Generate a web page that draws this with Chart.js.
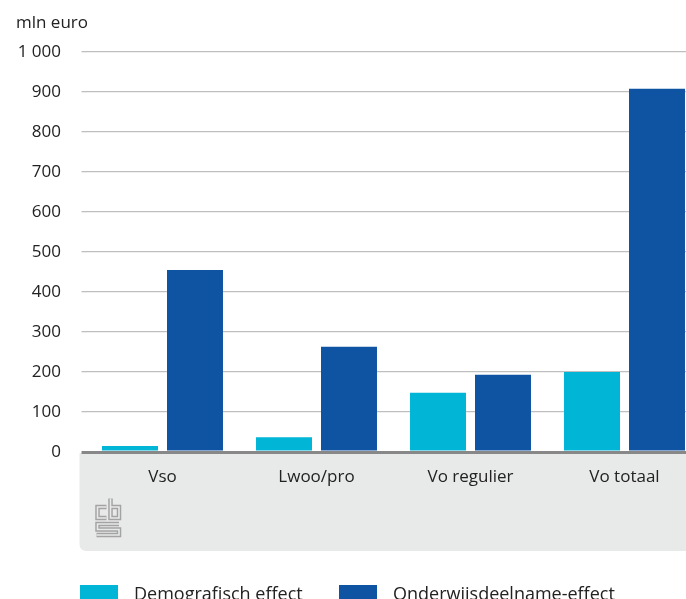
<!DOCTYPE html>
<html>
<head>
<meta charset="utf-8">
<script src="https://cdn.jsdelivr.net/npm/chart.js@4"></script>
<style>
  html, body { margin: 0; padding: 0; background: #fff; overflow: hidden; }
  #wrap { position: relative; width: 710px; height: 599px; }
  #unit { position: absolute; left: 16px; top: 10px; font: 17px "Open Sans", sans-serif; color: #222; }
  .lg { position: absolute; top: 582px; font: 18px "Open Sans", sans-serif; color: #222; line-height: 23px; white-space: nowrap; }
  .lgbox { position: absolute; top: 585px; width: 38px; height: 19px; }
</style>
</head>
<body>
<div id="wrap">
  <canvas id="c" width="710" height="599"></canvas>
  <div id="unit">mln euro</div>
  <div id="legend"></div>
</div>
<script>
const categories = ['Vso', 'Lwoo/pro', 'Vo regulier', 'Vo totaal'];
const seriesNames = ['Demografisch effect', 'Onderwijsdeelname-effect'];
const demografisch = [15, 37, 148, 200];
const onderwijsdeelname = [455, 263, 193, 908];
const yTickLabels = ['0', '100', '200', '300', '400', '500', '600', '700', '800', '900', '1 000'];
const colors = ['#00b5d6', '#0f53a3'];

const FONT = '"Open Sans", sans-serif';

const bgPlugin = {
  id: 'bgPanel',
  beforeDraw(chart) {
    const ctx = chart.ctx;
    const a = chart.chartArea;
    const x0 = 79.5, y0 = a.bottom + 1, x1 = chart.width + 10, y1 = 551, r = 7;
    ctx.save();
    ctx.fillStyle = '#e8e9e9';
    ctx.beginPath();
    ctx.moveTo(x0, y0);
    ctx.lineTo(x1, y0);
    ctx.lineTo(x1, y1);
    ctx.lineTo(x0 + r, y1);
    ctx.quadraticCurveTo(x0, y1, x0, y1 - r);
    ctx.closePath();
    ctx.fill();
    // CBS logo (outline style)
    const paths = [
      [[106.5, 507], [97.5, 507], [97.5, 518], [106.5, 518]],
      [[110.5, 498.5], [110.5, 518], [119, 518], [119, 507], [110.5, 507]],
      [[119, 524], [97.5, 524], [97.5, 529.5], [119, 529.5], [119, 535], [96.5, 535]]
    ];
    const strokeAll = (w, col) => {
      ctx.lineWidth = w; ctx.strokeStyle = col; ctx.lineJoin = 'miter'; ctx.lineCap = 'butt';
      paths.forEach(p => {
        ctx.beginPath();
        p.forEach((pt, i) => i ? ctx.lineTo(pt[0], pt[1]) : ctx.moveTo(pt[0], pt[1]));
        ctx.stroke();
      });
    };
    strokeAll(4.5, '#a3a3a3');
    strokeAll(1.6, '#e8e9e9');
    ctx.restore();
  }
};

new Chart(document.getElementById('c'), {
  type: 'bar',
  data: {
    labels: categories,
    datasets: [
      { label: seriesNames[0], data: demografisch, backgroundColor: colors[0] },
      { label: seriesNames[1], data: onderwijsdeelname, backgroundColor: colors[1] }
    ]
  },
  options: {
    responsive: false,
    animation: false,
    devicePixelRatio: 1,
    barPercentage: 0.8615,
    categoryPercentage: 0.844,
    layout: { padding: { left: 0, right: 8.5, top: 52, bottom: 0 } },
    plugins: { legend: { display: false }, tooltip: { enabled: false } },
    scales: {
      x: {
        z: 1,
        grid: { display: false, drawTicks: false },
        border: { display: true, color: '#888888', width: 3 },
        ticks: { color: '#222', font: { family: FONT, size: 17 }, padding: 15, maxRotation: 0 },
        afterFit(s) { s.height = 147; }
      },
      y: {
        min: 0, max: 1000,
        border: { display: false },
        grid: {
          drawTicks: true,
          tickLength: 4,
          color: c => c.tick && c.tick.value === 0 ? '#888888' : '#bfbfbf',
          lineWidth: c => c.tick && c.tick.value === 0 ? 3 : 1.3
        },
        ticks: {
          stepSize: 100,
          padding: 20.5,
          color: '#222',
          font: { family: FONT, size: 17 },
          callback: v => yTickLabels[Math.round(v / 100)]
        },
        afterFit(s) { s.width = 85.5; }
      }
    }
  },
  plugins: [bgPlugin]
});

// legend
const lg = document.getElementById('legend');
const lgPos = [[80, 134], [339, 393]];
seriesNames.forEach((n, i) => {
  const b = document.createElement('div');
  b.className = 'lgbox';
  b.style.left = lgPos[i][0] + 'px';
  b.style.background = colors[i];
  lg.appendChild(b);
  const t = document.createElement('div');
  t.className = 'lg';
  t.style.left = lgPos[i][1] + 'px';
  t.textContent = n;
  lg.appendChild(t);
});
</script>
</body>
</html>
